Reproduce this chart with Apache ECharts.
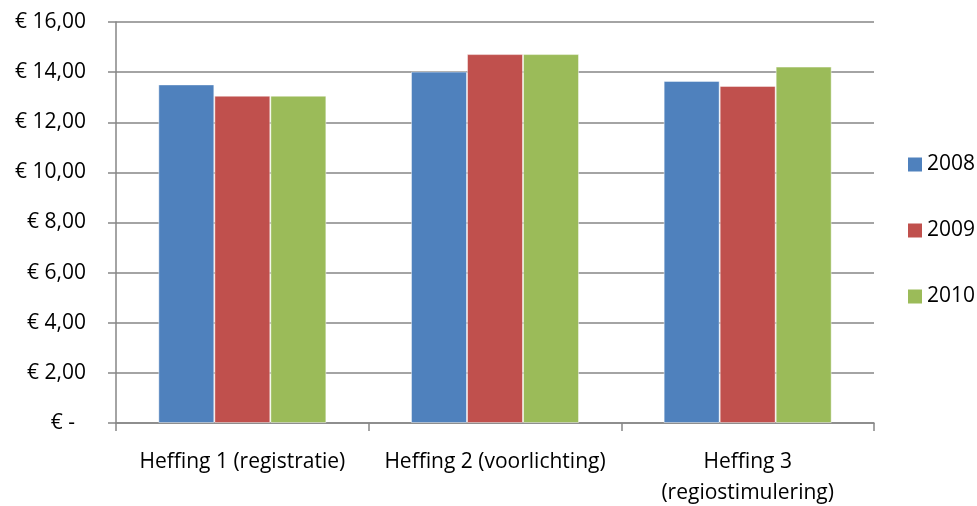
<!DOCTYPE html>
<html><head><meta charset="utf-8">
<script src="https://cdn.jsdelivr.net/npm/echarts@6/dist/echarts.min.js"></script>
<style>html,body{margin:0;padding:0;background:#fff}#c{width:977px;height:506px}</style>
</head><body><div id="c"></div>
<script>
var categories = ['Heffing 1 (registratie)', 'Heffing 2 (voorlichting)', 'Heffing 3\n(regiostimulering)'];
var seriesNames = ['2008', '2009', '2010'];
var values2008 = [13.51, 14.02, 13.65];
var values2009 = [13.06, 14.72, 13.45];
var values2010 = [13.06, 14.72, 14.22];
var colors = ['#4F81BD', '#C0504D', '#9BBB59'];
var yTicks = [0, 2, 4, 6, 8, 10, 12, 14, 16];

var FONT = 'Open Sans';
var FS = 21;
var chart = echarts.init(document.getElementById('c'));
var data = [values2008, values2009, values2010];
chart.setOption({
  animation: false,
  textStyle: {fontFamily: FONT},
  grid: {left: 116, right: 103, top: 22, bottom: 83, outerBoundsMode: 'none', containLabel: false},
  legend: {
    orient: 'vertical', left: 903, top: 149, itemGap: 45,
    itemWidth: 14, itemHeight: 14, icon: 'rect', itemStyle: {borderWidth: 0},
    textStyle: {fontFamily: FONT, fontSize: FS, color: '#000'},
    data: seriesNames
  },
  xAxis: {
    type: 'category', data: categories,
    axisLine: {lineStyle: {color: '#868686', width: 1.5}},
    axisTick: {show: true, length: 8, lineStyle: {color: '#868686', width: 1.5}},
    axisLabel: {fontFamily: FONT, fontSize: FS, color: '#000', margin: 24, lineHeight: 31, interval: 0, hideOverlap: false}
  },
  yAxis: {
    type: 'value', min: yTicks[0], max: yTicks[yTicks.length-1], interval: 2,
    axisLine: {show: true, lineStyle: {color: '#868686', width: 1.5}},
    axisTick: {show: true, length: 8, lineStyle: {color: '#868686', width: 1.5}},
    splitLine: {show: true, lineStyle: {color: '#868686', width: 1.5}},
    axisLabel: {
      fontFamily: FONT, fontSize: FS, color: '#000', margin: 30,
      formatter: function (v) {
        if (v === 0) return '{z|€ -}';
        return '€ ' + v.toFixed(2).replace('.', ',');
      },
      rich: {z: {fontFamily: FONT, fontSize: FS, color: '#000', padding: [0, 11, 0, 0]}}
    }
  },
  series: seriesNames.map(function (n, i) {
    return {
      name: n, type: 'bar', data: data[i], barGap: '0%', barCategoryGap: '33.5%',
      itemStyle: {color: colors[i], borderColor: 'rgba(255,255,255,0.45)', borderWidth: 1}
    };
  })
});
</script></body></html>
